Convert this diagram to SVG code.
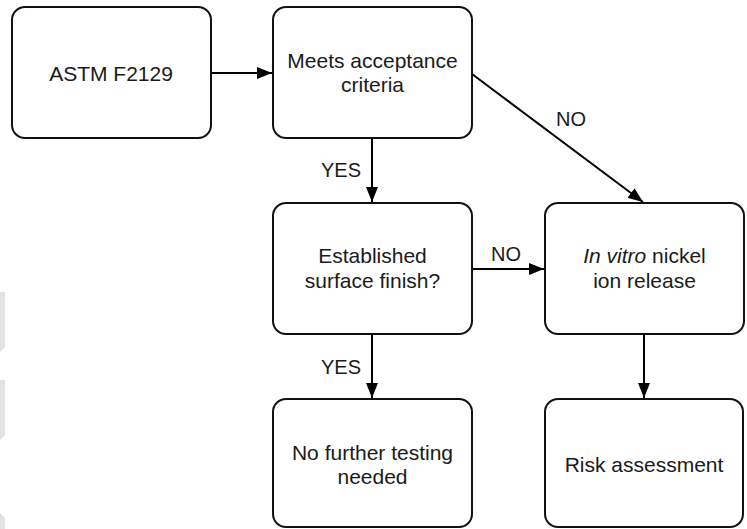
<svg xmlns="http://www.w3.org/2000/svg" width="747" height="529" viewBox="0 0 747 529">
<style>
.box{fill:#fff;stroke:#111;stroke-width:2}
.t{font-family:"Liberation Sans",Arial,sans-serif;font-size:21px;fill:#1a1a1a;text-anchor:middle}
.lbl{font-family:"Liberation Sans",Arial,sans-serif;font-size:20px;fill:#1a1a1a}
.c{stroke:#000;stroke-width:2;fill:none}
</style>
<defs>
<marker id="ah" viewBox="0 0 15 12" refX="15" refY="6" markerWidth="15" markerHeight="12" markerUnits="userSpaceOnUse" orient="auto">
<path d="M0,0 L15,6 L0,12 Z" fill="#000"/>
</marker>
</defs>
<rect width="747" height="529" fill="#fff"/>
<g fill="#e2e2e2">
<polygon points="0,292 5,292 5,347 0,352"/>
<polygon points="0,380 5,380 5,435 0,440"/>
<polygon points="0,513 5,518 5,529 0,529"/>
</g>
<g id="connectors">
<line class="c" x1="211" y1="73" x2="272" y2="73" marker-end="url(#ah)"/>
<line class="c" x1="372" y1="139" x2="372" y2="202" marker-end="url(#ah)"/>
<line class="c" x1="472" y1="74" x2="643" y2="202" marker-end="url(#ah)"/>
<line class="c" x1="472" y1="269" x2="544" y2="269" marker-end="url(#ah)"/>
<line class="c" x1="372" y1="335" x2="372" y2="398" marker-end="url(#ah)"/>
<line class="c" x1="644" y1="335" x2="644" y2="398" marker-end="url(#ah)"/>
<text class="lbl" x="321" y="177">YES</text>
<text class="lbl" x="556" y="126">NO</text>
<text class="lbl" x="491" y="261">NO</text>
<text class="lbl" x="321" y="374">YES</text>
</g>
<g id="astm">
<rect class="box" x="12" y="7" width="199" height="131" rx="13"/>
<text class="t" x="111" y="81">ASTM F2129</text>
</g>
<g id="meets">
<rect class="box" x="273" y="7" width="199" height="131" rx="13"/>
<text class="t" x="372.5" y="68">Meets acceptance</text>
<text class="t" x="372.5" y="92">criteria</text>
</g>
<g id="established">
<rect class="box" x="273" y="203" width="199" height="131" rx="13"/>
<text class="t" x="372.5" y="263">Established</text>
<text class="t" x="372.5" y="288">surface finish?</text>
</g>
<g id="invitro">
<rect class="box" x="545" y="203" width="199" height="131" rx="13"/>
<text class="t" x="644.5" y="263"><tspan font-style="italic">In vitro</tspan> nickel</text>
<text class="t" x="644.5" y="288">ion release</text>
</g>
<g id="nofurther">
<rect class="box" x="273" y="399" width="199" height="128" rx="13"/>
<text class="t" x="372.5" y="460">No further testing</text>
<text class="t" x="372.5" y="484">needed</text>
</g>
<g id="risk">
<rect class="box" x="545" y="399" width="198" height="128" rx="13"/>
<text class="t" x="644" y="472">Risk assessment</text>
</g>
</svg>
